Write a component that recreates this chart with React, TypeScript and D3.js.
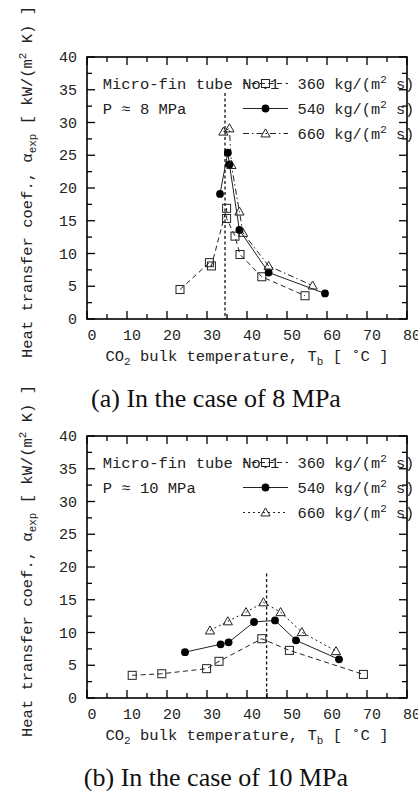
import React from "react";
import * as d3 from "d3";

// ---- data ----
const xTicks = [0, 10, 20, 30, 40, 50, 60, 70, 80];
const yTicks = [0, 5, 10, 15, 20, 25, 30, 35, 40];

const t8_360 = [23.25, 30.6, 31.1, 34.9, 34.9, 37.0, 38.25, 43.7, 54.5];
const a8_360 = [4.5, 8.6, 8.1, 16.9, 15.35, 12.65, 9.85, 6.45, 3.55];
const t8_540 = [33.25, 35.2, 35.6, 38.1, 45.4, 59.5];
const a8_540 = [19.1, 25.4, 23.6, 13.6, 7.1, 3.9];
const t8_660 = [34.1, 35.6, 36.1, 38.1, 39.0, 45.4, 56.4];
const a8_660 = [28.6, 29.1, 23.5, 16.4, 13.15, 8.1, 5.1];

const t10_360 = [11.3, 18.7, 29.9, 33.0, 43.7, 50.6, 69.1];
const a10_360 = [3.46, 3.7, 4.48, 5.6, 9.05, 7.27, 3.6];
const t10_540 = [24.5, 33.4, 35.4, 41.75, 47.0, 52.25, 63.0];
const a10_540 = [7.0, 8.2, 8.5, 11.6, 11.85, 8.8, 5.9];
const t10_660 = [30.75, 35.2, 39.75, 44.1, 48.4, 53.7, 62.25];
const a10_660 = [10.3, 11.7, 13.1, 14.6, 13.1, 10.05, 7.15];

const pseudoCritical8 = { t: 34.5, top: 34.5 };
const pseudoCritical10 = { t: 44.9, top: 19 };

const legendLabels = ["360", "540", "660"];

type Series = { t: number[]; a: number[]; marker: "square" | "circle" | "triangle"; dash: string };

const MONO = "'Liberation Mono', 'DejaVu Sans Mono', monospace";
const SERIF = "'Liberation Serif', 'Times New Roman', serif";

function Marker({ kind, x, y }: { kind: string; x: number; y: number }) {
  if (kind === "square")
    return <rect x={x - 4} y={y - 4} width={8} height={8} fill="none" stroke="#222" strokeWidth={1} />;
  if (kind === "circle") return <circle cx={x} cy={y} r={3.9} fill="#000" />;
  const s = 4.6;
  return (
    <path
      d={`M${x},${y - s} L${x + s},${y + s * 0.75} L${x - s},${y + s * 0.75} Z`}
      fill="none"
      stroke="#222"
      strokeWidth={1}
    />
  );
}

function Panel({
  dy,
  series,
  vline,
  pressure,
  caption,
}: {
  dy: number;
  series: Series[];
  vline: { t: number; top: number };
  pressure: string;
  caption: string;
}) {
  const x = d3.scaleLinear().domain([0, 80]).range([87, 407]);
  const y = d3.scaleLinear().domain([0, 40]).range([319, 57]);
  const line = d3
    .line<[number, number]>()
    .x((d) => x(d[0]))
    .y((d) => y(d[1]));

  const xMinor = d3.range(0, 81, 5);
  const yMinor = d3.range(0, 40.1, 2.5);

  return (
    <g transform={`translate(0,${dy})`}>
      {/* vertical pseudo-critical line */}
      <line
        x1={x(vline.t)}
        x2={x(vline.t)}
        y1={y(vline.top)}
        y2={y(0)}
        stroke="#111"
        strokeWidth={1.3}
        strokeDasharray="3,2.5"
      />
      {/* series lines */}
      {series.map((s, i) => (
        <path
          key={"l" + i}
          d={line(s.t.map((t, j) => [t, s.a[j]] as [number, number])) || ""}
          fill="none"
          stroke="#222"
          strokeWidth={1}
          strokeDasharray={s.dash}
        />
      ))}
      {series.map((s, i) =>
        s.t.map((t, j) => <Marker key={`m${i}-${j}`} kind={s.marker} x={x(t)} y={y(s.a[j])} />)
      )}
      {/* frame ticks */}
      {xMinor.map((v) => {
        const len = v % 10 === 0 ? 8 : 5;
        return (
          <g key={"xt" + v}>
            <line x1={x(v)} x2={x(v)} y1={y(0)} y2={y(0) - len} stroke="#000" strokeWidth={1.3} />
            <line x1={x(v)} x2={x(v)} y1={y(40)} y2={y(40) + len} stroke="#000" strokeWidth={1.3} />
          </g>
        );
      })}
      {yMinor.map((v) => {
        const len = v % 5 === 0 ? 8 : 5;
        return (
          <g key={"yt" + v}>
            <line x1={x(0)} x2={x(0) + len} y1={y(v)} y2={y(v)} stroke="#000" strokeWidth={1.3} />
            <line x1={x(80)} x2={x(80) - len} y1={y(v)} y2={y(v)} stroke="#000" strokeWidth={1.3} />
          </g>
        );
      })}
      {/* tick labels */}
      {xTicks.map((v) => (
        <text key={"xl" + v} x={x(v) + 5} y={y(0) + 21} fontFamily={MONO} fontSize={15} textAnchor="middle" fill="#222">
          {v}
        </text>
      ))}
      {yTicks.map((v) => (
        <text key={"yl" + v} x={77} y={y(v) + 5} fontFamily={MONO} fontSize={15} textAnchor="end" fill="#222">
          {v}
        </text>
      ))}
      {/* annotations */}
      <text x={102.7} y={88.5} fontFamily={MONO} fontSize={15.5} fill="#222">
        Micro-fin tube No.1
      </text>
      <text x={102.7} y={114} fontFamily={MONO} fontSize={15.5} fill="#222">
        {pressure}
      </text>
      {/* legend */}
      {series.map((s, i) => {
        const ly = 83.5 + i * 25;
        return (
          <g key={"lg" + i}>
            <line x1={243} x2={288} y1={ly} y2={ly} stroke="#222" strokeWidth={1} strokeDasharray={s.dash} />
            <Marker kind={s.marker} x={265.5} y={ly} />
            <text x={297.5} y={ly + 5.5} fontFamily={MONO} fontSize={15.3} fill="#222">
              {legendLabels[i]} kg/(m
              <tspan dy={-6} fontSize={11}>
                2
              </tspan>
              <tspan dy={6}> s)</tspan>
            </text>
          </g>
        );
      })}
      {/* frame */}
      <rect x={x(0)} y={y(40)} width={x(80) - x(0)} height={y(0) - y(40)} fill="none" stroke="#000" strokeWidth={1.6} />
      {/* axis titles */}
      <text x={247} y={361} fontFamily={MONO} fontSize={15.5} textAnchor="middle" fill="#222">
        CO
        <tspan dy={4} fontSize={11}>
          2
        </tspan>
        <tspan dy={-4}> bulk temperature, T</tspan>
        <tspan dy={4} fontSize={11}>
          b
        </tspan>
        <tspan dy={-4}> [ ˚C ]</tspan>
      </text>
      <text transform="translate(32,358) rotate(-90)" x={0} y={0} fontFamily={MONO} fontSize={15.5} fill="#222">
        Heat transfer coef., α
        <tspan dy={4} fontSize={11}>
          exp
        </tspan>
        <tspan dy={-4}> [ kW/(m</tspan>
        <tspan dy={-6} fontSize={11}>
          2
        </tspan>
        <tspan dy={6}> K) ]</tspan>
      </text>
      <text x={216} y={407} fontFamily={SERIF} fontSize={26} textAnchor="middle" fill="#111">
        {caption}
      </text>
    </g>
  );
}

export default function App() {
  const s8: Series[] = [
    { t: t8_360, a: a8_360, marker: "square", dash: "5,3.5" },
    { t: t8_540, a: a8_540, marker: "circle", dash: "" },
    { t: t8_660, a: a8_660, marker: "triangle", dash: "6,3,1.5,3" },
  ];
  const s10: Series[] = [
    { t: t10_360, a: a10_360, marker: "square", dash: "5,3.5" },
    { t: t10_540, a: a10_540, marker: "circle", dash: "" },
    { t: t10_660, a: a10_660, marker: "triangle", dash: "2,3" },
  ];
  return (
    <svg
      width={418}
      height={791}
      style={{ position: "absolute", left: 0, top: 0, background: "#fff" }}
    >
      <rect width={418} height={791} fill="#fff" />
      <Panel dy={0} series={s8} vline={pseudoCritical8} pressure="P ≈ 8 MPa" caption="(a) In the case of 8 MPa" />
      <Panel dy={379} series={s10} vline={pseudoCritical10} pressure="P ≈ 10 MPa" caption="(b) In the case of 10 MPa" />
    </svg>
  );
}
